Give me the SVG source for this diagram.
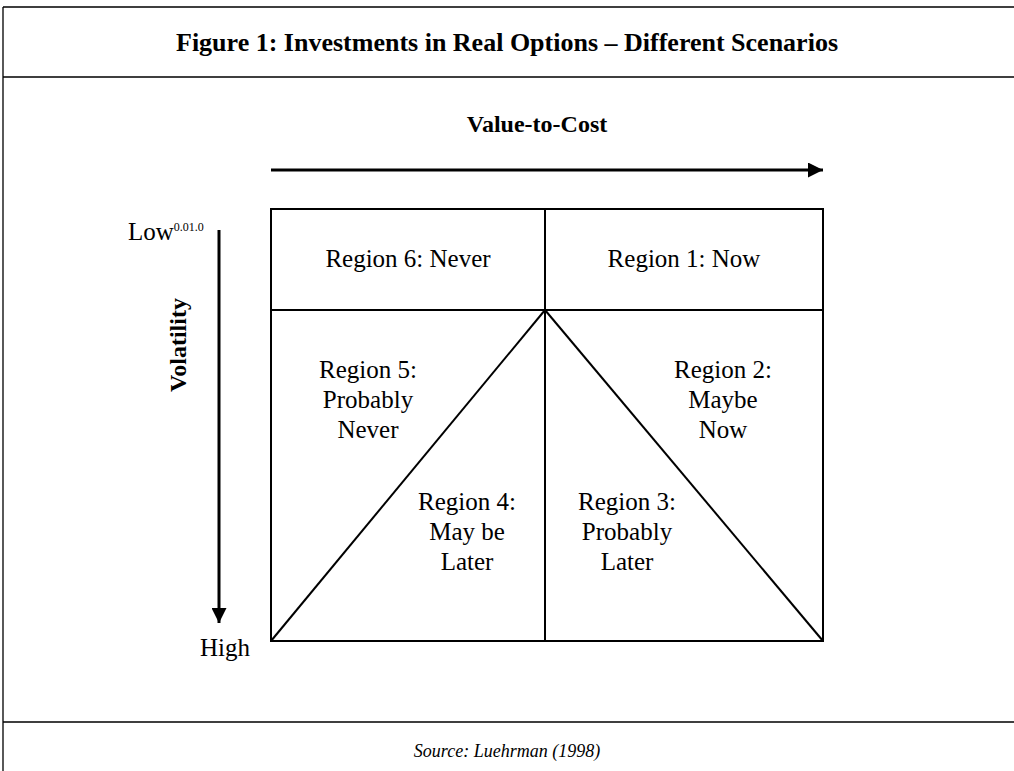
<svg xmlns="http://www.w3.org/2000/svg" width="1014" height="771" viewBox="0 0 1014 771">
  <style>
    text { font-family: "Liberation Serif", "DejaVu Serif", serif; fill: #000; }
    .title { font-size: 26px; font-weight: bold; text-anchor: middle; }
    .axis { font-size: 24px; font-weight: bold; text-anchor: middle; }
    .lbl { font-size: 25px; text-anchor: middle; }
    .src { font-size: 18px; font-style: italic; text-anchor: middle; }
    .frame { fill: none; stroke: #000; stroke-width: 1.3; }
    .grid { fill: none; stroke: #000; stroke-width: 2; }
    .arrow { stroke: #000; stroke-width: 3; fill: none; }
  </style>
  <defs>
    <marker id="head" viewBox="0 0 10 10" refX="10" refY="5" markerWidth="5" markerHeight="5" orient="auto" markerUnits="strokeWidth">
      <path d="M0,0 L10,5 L0,10 Z" fill="#000"/>
    </marker>
  </defs>
  <rect width="1014" height="771" fill="#fff"/>

  <!-- outer frame with title and source bands -->
  <g id="frame">
    <path class="frame" d="M3,7 H1014 M3,7 V771 M3,77 H1014 M3,722 H1014"/>
  </g>

  <text class="title" x="507" y="51">Figure 1: Investments in Real Options – Different Scenarios</text>

  <!-- axes -->
  <g id="connectors">
    <line class="arrow" x1="271" y1="170" x2="823" y2="170" marker-end="url(#head)"/>
    <line class="arrow" x1="219" y1="230" x2="219" y2="623" marker-end="url(#head)"/>
  </g>
  <text class="axis" x="537" y="132">Value-to-Cost</text>
  <text class="axis" transform="translate(186,345) rotate(-90)">Volatility</text>
  <text x="128" y="240" style="font-size:25px">Low<tspan dy="-9" style="font-size:12px">0.01.0</tspan></text>
  <text x="200" y="656" style="font-size:25px">High</text>

  <!-- region grid -->
  <g id="grid">
    <rect class="grid" x="271" y="209" width="552" height="432"/>
    <line class="grid" x1="271" y1="310" x2="823" y2="310"/>
    <line class="grid" x1="545" y1="209" x2="545" y2="641"/>
    <line class="grid" x1="545" y1="310" x2="271" y2="641"/>
    <line class="grid" x1="545" y1="310" x2="823" y2="641"/>
  </g>

  <g id="region6"><text class="lbl" x="408" y="267">Region 6: Never</text></g>
  <g id="region1"><text class="lbl" x="684" y="267">Region 1: Now</text></g>
  <g id="region5">
    <text class="lbl" x="368" y="378">Region 5:</text>
    <text class="lbl" x="368" y="408">Probably</text>
    <text class="lbl" x="368" y="438">Never</text>
  </g>
  <g id="region2">
    <text class="lbl" x="723" y="378">Region 2:</text>
    <text class="lbl" x="723" y="408">Maybe</text>
    <text class="lbl" x="723" y="438">Now</text>
  </g>
  <g id="region4">
    <text class="lbl" x="467" y="510">Region 4:</text>
    <text class="lbl" x="467" y="540">May be</text>
    <text class="lbl" x="467" y="570">Later</text>
  </g>
  <g id="region3">
    <text class="lbl" x="627" y="510">Region 3:</text>
    <text class="lbl" x="627" y="540">Probably</text>
    <text class="lbl" x="627" y="570">Later</text>
  </g>

  <text class="src" x="507" y="757">Source: Luehrman (1998)</text>
</svg>
